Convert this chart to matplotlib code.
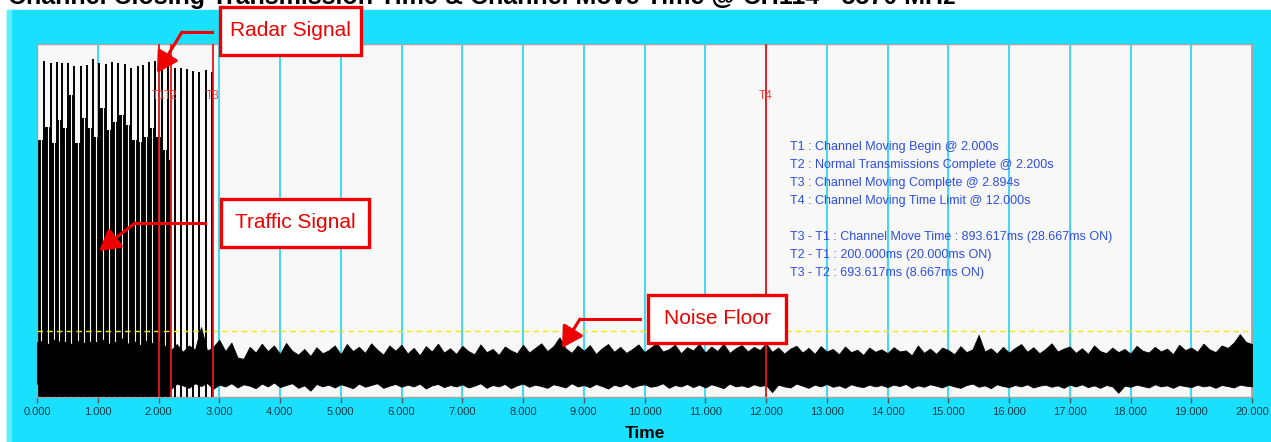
import numpy as np
import matplotlib
matplotlib.use("Agg")
import matplotlib.pyplot as plt
from matplotlib.patches import Rectangle, FancyArrowPatch
from matplotlib.lines import Line2D

plt.rcParams['font.family'] = ['Liberation Sans', 'DejaVu Sans']

W, H = 1271, 442

# event markers (seconds)
marker_names = ["T1", "T2", "T3", "T4"]
marker_times = [2.000, 2.200, 2.894, 12.000]

# beacon / radar pulses before the channel move completes
pulse_times = [0.115, 0.225, 0.324, 0.411, 0.515, 0.614, 0.720, 0.818, 0.927, 1.026,
               1.136, 1.239, 1.338, 1.449, 1.542, 1.657, 1.750, 1.843, 1.942, 2.052,
               2.160, 2.272, 2.370, 2.469, 2.573, 2.667, 2.787, 2.886]
pulse_tops = [95.3, 94.7, 94.8, 94.7, 94.5, 93.9, 93.8, 94.1, 95.7, 94.7,
              94.2, 94.8, 94.7, 94.2, 93.1, 93.8, 94.1, 94.8, 95.2, 94.5,
              94.2, 93.1, 93.3, 92.8, 92.3, 92.2, 92.5, 92.1]

# traffic burst level for each beacon interval up to T2
traffic_levels = [72.8, 76.5, 72.0, 78.5, 76.2, 85.5, 72.0, 79.0, 76.2, 73.7,
                  82.0, 75.6, 78.0, 80.0, 77.0, 72.8, 72.2, 73.7, 76.2, 73.7,
                  70.0, 67.0]

# noise envelope sampled every 0.1 s from 0 to 20 s
noise_upper = [
    15.5, 16.0, 14.8, 16.5, 15.2, 15.8, 14.6, 16.2, 15.0, 15.9,
    15.4, 16.3, 14.9, 15.7, 16.6, 15.1, 15.8, 14.7, 16.0, 15.3,
    15.8, 14.6, 13.2, 15.0, 12.8, 14.6, 13.4, 19.8, 13.1, 14.2,
    16.2, 13.0, 15.4, 11.2, 10.8, 14.2, 12.6, 15.1, 13.0, 14.6,
    12.2, 15.3, 13.1, 12.0, 13.6, 11.6, 14.1, 12.4, 13.2, 14.6,
    12.1, 15.0, 13.0, 14.2, 12.5, 15.2, 13.4, 12.0, 14.6, 13.1,
    14.8, 12.3, 13.9, 11.8, 14.4, 12.9, 15.1, 12.6, 13.8, 12.2,
    14.5, 13.0, 12.1, 14.9, 12.7, 13.6, 11.9, 14.3, 13.2, 12.4,
    14.8, 12.6, 13.9, 15.2, 13.0, 14.4, 16.9, 13.8, 12.5, 14.6,
    13.1, 14.7, 12.2, 13.8, 15.0, 12.8, 14.2, 12.5, 13.6, 14.9,
    12.7, 14.0, 15.3, 12.9, 13.5, 14.8, 12.4, 14.1, 13.2, 15.0,
    12.6, 14.3, 13.0, 15.1, 12.5, 13.8, 14.7, 12.9, 14.2, 13.3,
    15.2, 12.8, 14.0, 12.3, 13.7, 14.5, 12.6, 13.9, 12.2, 14.4,
    12.9, 13.6, 12.1, 14.3, 12.7, 13.4, 11.9, 14.0, 12.8, 13.5,
    12.4, 14.1, 12.9, 13.2, 11.8, 14.6, 12.5, 13.7, 12.2, 14.0,
    13.3, 12.1, 14.4, 12.7, 13.5, 17.6, 12.9, 13.8, 12.3, 14.2,
    12.6, 13.9, 15.0, 12.8, 14.1, 12.4, 13.6, 15.2, 12.9, 13.7,
    14.3, 12.5, 13.8, 12.2, 14.6, 13.0, 12.4, 14.0, 12.7, 13.6,
    12.3, 14.5, 13.1, 12.6, 14.2, 12.9, 13.7, 12.1, 14.8, 13.3,
    14.0, 12.8, 15.1, 13.5, 12.7, 14.6, 13.9, 15.4, 17.8, 15.6,
    15.0]
noise_lower = [
    3.8, 3.2, 4.1, 2.9, 3.6, 4.3, 3.0, 3.9, 3.4, 2.8,
    3.7, 4.2, 3.1, 3.5, 2.7, 3.9, 3.3, 4.0, 2.9, 3.6,
    4.4, 3.0, 2.2, 3.8, 3.3, 2.6, 3.9, 3.1, 4.0, 2.3,
    3.5, 3.0, 3.9, 2.7, 3.6, 3.2, 2.5, 3.8, 3.0, 4.1,
    2.8, 3.4, 3.9, 2.6, 3.3, 1.8, 3.7, 3.0, 3.5, 2.7,
    3.6, 3.1, 2.5, 3.8, 2.9, 3.4, 3.9, 2.6, 3.2, 3.7,
    2.9, 3.5, 3.0, 3.8, 2.4, 3.3, 3.7, 2.8, 3.4, 3.0,
    3.6, 2.7, 3.2, 3.9, 2.6, 3.4, 3.0, 3.7, 2.5, 3.3,
    3.8, 2.9, 3.5, 3.1, 2.6, 3.6, 3.2, 2.7, 3.9, 3.0,
    3.4, 2.8, 3.7, 3.1, 2.4, 3.5, 3.0, 3.8, 2.7, 3.3,
    3.6, 2.9, 3.2, 3.9, 2.6, 3.4, 3.0, 3.7, 2.8, 3.5,
    2.7, 3.6, 3.1, 2.5, 3.8, 3.0, 3.3, 2.8, 3.6, 3.1,
    3.4, 1.4, 3.5, 3.0, 2.7, 3.8, 3.2, 2.6, 3.5, 3.0,
    3.7, 2.9, 3.3, 2.6, 3.6, 3.1, 2.8, 3.5, 3.0, 3.4,
    2.8, 3.5, 3.1, 3.7, 2.6, 3.3, 2.9, 3.6, 3.2, 2.7,
    3.5, 3.0, 2.6, 3.4, 3.8, 2.9, 3.3, 2.5, 3.6, 3.1,
    2.8, 3.4, 3.0, 3.6, 2.7, 3.2, 3.5, 2.9, 3.3, 2.6,
    3.5, 3.0, 3.6, 2.8, 3.3, 2.6, 3.4, 3.0, 1.2, 3.2,
    2.9, 3.5, 3.1, 2.7, 3.6, 3.0, 3.3, 2.6, 3.4, 3.1,
    2.8, 3.5, 3.0, 3.3, 2.6, 3.4, 3.1, 2.7, 3.5, 3.2,
    3.0]
noise_floor = 18.7

summary_lines = [
    "T1 : Channel Moving Begin @ 2.000s",
    "T2 : Normal Transmissions Complete @ 2.200s",
    "T3 : Channel Moving Complete @ 2.894s",
    "T4 : Channel Moving Time Limit @ 12.000s",
    "",
    "T3 - T1 : Channel Move Time : 893.617ms (28.667ms ON)",
    "T2 - T1 : 200.000ms (20.000ms ON)",
    "T3 - T2 : 693.617ms (8.667ms ON)",
]

title = "Channel Closing Transmission Time & Channel Move Time @ CH114 - 5570 MHz"

CYAN = "#1ae0ff"
RED = "#e8161a"
CALLOUT = "#ee0000"
PLOT_BG = "#f8f8f8"

# plot area in pixels (from top-left)
AX_L, AX_R, AX_T, AX_B = 37, 1252, 44, 397


def fpos(x, y):
    """pixel position (from top-left) -> figure fraction"""
    return x / W, 1 - y / H


fig = plt.figure(figsize=(W / 100, H / 100), dpi=100, facecolor="white")

# cyan panel behind the chart
fig.patches.append(Rectangle(fpos(7, H), (W - 7) / W, (H - 10) / H,
                             transform=fig.transFigure, color=CYAN, zorder=-2))
fig.patches.append(Rectangle(fpos(7, H), 4 / W, (H - 10) / H,
                             transform=fig.transFigure, color="#5cf0ff", zorder=-1))

l, b = fpos(AX_L, AX_B)
ax = fig.add_axes([l, b, (AX_R - AX_L) / W, (AX_B - AX_T) / H])
ax.set_facecolor(PLOT_BG)
for s in ax.spines.values():
    s.set_color("#a4a4a4")
    s.set_linewidth(1)

ax.set_xlim(0, 20)
ax.set_ylim(0, 100)
ax.set_xticks(np.arange(0, 21))
ax.set_xticklabels([f"{v:.3f}" for v in range(21)])
ax.set_yticks([])
ax.tick_params(axis="x", direction="out", length=4, width=1, color="#505a5c",
               labelsize=8, labelcolor="#0e3b45", pad=3.5)
ax.grid(axis="x", color="#20d4f4", linewidth=1.2)
ax.set_axisbelow(True)

# traffic bursts, one level per beacon interval, solid down to the floor
edges = np.array([0.0] + [p for p in pulse_times if p < marker_times[1]]
                 + [marker_times[1]])
levels = np.array(traffic_levels + [traffic_levels[-1]])
ax.fill_between(edges, 0, levels, step="post", facecolor="black",
                edgecolor="none", zorder=2)

# short idle gap ahead of every beacon lets the noise show through
gap_times = edges[1:-1] - 0.048
gap_tops = np.array(traffic_levels[:len(gap_times)]) + 0.5
ax.vlines(gap_times, 10, gap_tops, color=PLOT_BG, linewidth=0.8, zorder=2.5)

# noise band
noise_t = np.linspace(0, 20, len(noise_upper))
ax.fill_between(noise_t, noise_lower, noise_upper, facecolor="black",
                edgecolor="black", linewidth=0.6, zorder=3)

# beacon pulses
ax.vlines(pulse_times, 0, pulse_tops, color="black", linewidth=1.4, zorder=3)

# noise floor threshold
ax.axhline(noise_floor, color="#eeea10", linewidth=1, dashes=(4, 3), zorder=4)

# event markers with their names near the top
label_y = (AX_B - 96) / (AX_B - AX_T)
for name, t in zip(marker_names, marker_times):
    ax.axvline(t, color=RED, linewidth=1.3, zorder=5)
    ax.text(t, label_y, name, transform=ax.get_xaxis_transform(),
            ha="center", va="center", fontsize=8.5, color="#ff3b3b", zorder=6)

# timing summary
for i, line in enumerate(summary_lines):
    if not line:
        continue
    x, y = fpos(790, 147 + 18 * i)
    fig.text(x, y, line, fontsize=9, color="#2d4ee6", va="center", ha="left")

# callouts: box, elbow line and arrow head
callouts = [
    ("Radar Signal", (220, 7, 361, 55), (212, 32), (182, 32), (157, 73)),
    ("Traffic Signal", (221, 199, 369, 247), (205, 223), (135, 223), (99, 251)),
    ("Noise Floor", (648, 295, 786, 343), (640, 319), (580, 319), (562, 348)),
]
for label, (x0, y0, x1, y1), start, corner, tip in callouts:
    fig.patches.append(Rectangle(fpos(x0, y1), (x1 - x0) / W, (y1 - y0) / H,
                                 transform=fig.transFigure, facecolor="white",
                                 edgecolor=CALLOUT, linewidth=2.4, zorder=20))
    cx, cy = fpos((x0 + x1) / 2, (y0 + y1) / 2)
    fig.text(cx, cy, label, fontsize=15, color=CALLOUT, ha="center",
             va="center", zorder=21)
    sx, sy = fpos(*start)
    kx, ky = fpos(*corner)
    fig.add_artist(Line2D([sx, kx], [sy, ky], transform=fig.transFigure,
                          color=CALLOUT, linewidth=2.2, zorder=20))
    fig.add_artist(FancyArrowPatch(fpos(*corner), fpos(*tip),
                                   transform=fig.transFigure,
                                   arrowstyle="-|>,head_length=0.7,head_width=0.4",
                                   mutation_scale=18, color=CALLOUT,
                                   linewidth=2.2, shrinkA=0, shrinkB=0, zorder=20))

fig.text(*fpos(645, 434), "Time", fontsize=12.5, fontweight="bold",
         ha="center", va="center")
# title runs off the top edge of the canvas
fig.text(*fpos(8, 4), title, fontsize=18, fontweight="bold",
         ha="left", va="baseline")

fig.savefig("out.png", dpi=100, facecolor="white")
